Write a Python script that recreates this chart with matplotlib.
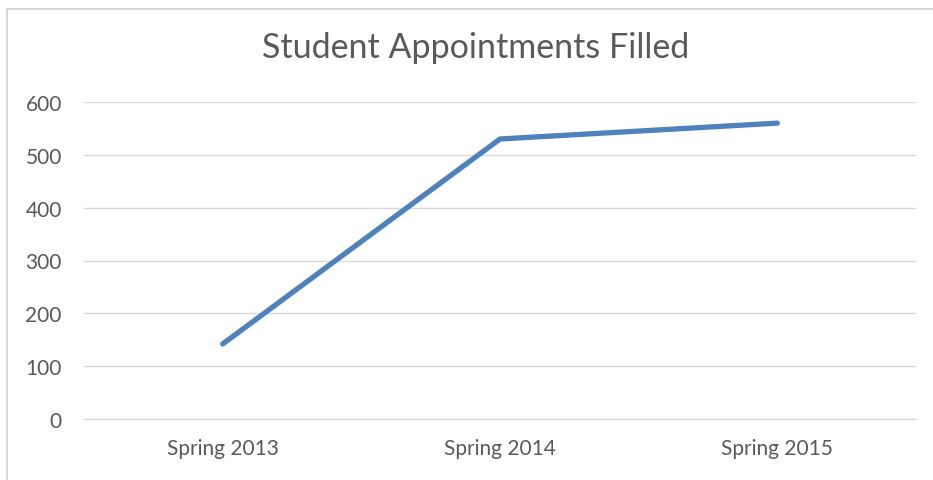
import matplotlib
matplotlib.use('Agg')
import matplotlib.pyplot as plt
from matplotlib.lines import Line2D

semesters = ['Spring 2013', 'Spring 2014', 'Spring 2015']
appointments = [142, 530, 560]
y_ticks = [0, 100, 200, 300, 400, 500, 600]

W, H = 933, 481
plt.rcParams['font.family'] = ['Lato', 'DejaVu Sans']

fig = plt.figure(figsize=(W / 100, H / 100), dpi=100)
ax = fig.add_axes([84 / W, (H - 420) / H, (916 - 84) / W, (420 - 103) / H])

x = list(range(len(semesters)))
ax.plot(x, appointments, color='#4F81BD', linewidth=3.8, solid_capstyle='round',
        solid_joinstyle='round', zorder=3)

ax.set_xlim(-0.5, len(semesters) - 0.5)
ax.set_ylim(0, 600)
ax.set_yticks(y_ticks)
ax.set_xticks(x)
ax.set_xticklabels(semesters)
ax.grid(axis='y', color='#D9D9D9', linewidth=1)
ax.set_axisbelow(True)
for s in ['top', 'right', 'left']:
    ax.spines[s].set_visible(False)
ax.spines['bottom'].set_color('#D9D9D9')
ax.spines['bottom'].set_linewidth(1)
ax.tick_params(length=0, labelsize=15, colors='#595959')
ax.tick_params(axis='x', pad=14)
ax.tick_params(axis='y', pad=16)

fig.text(476 / W, 1 - 48 / H, 'Student Appointments Filled', ha='center', va='center',
         fontsize=24.5, color='#595959')

# chart frame (left and top edges visible)
fig.add_artist(Line2D([7 / W, 7 / W], [0, 1 - 10 / H], color='#D0D0D0', linewidth=1.2))
fig.add_artist(Line2D([7 / W, 1], [1 - 10 / H, 1 - 10 / H], color='#D0D0D0', linewidth=1.2))

fig.savefig('out.png', dpi=100, facecolor='white')
